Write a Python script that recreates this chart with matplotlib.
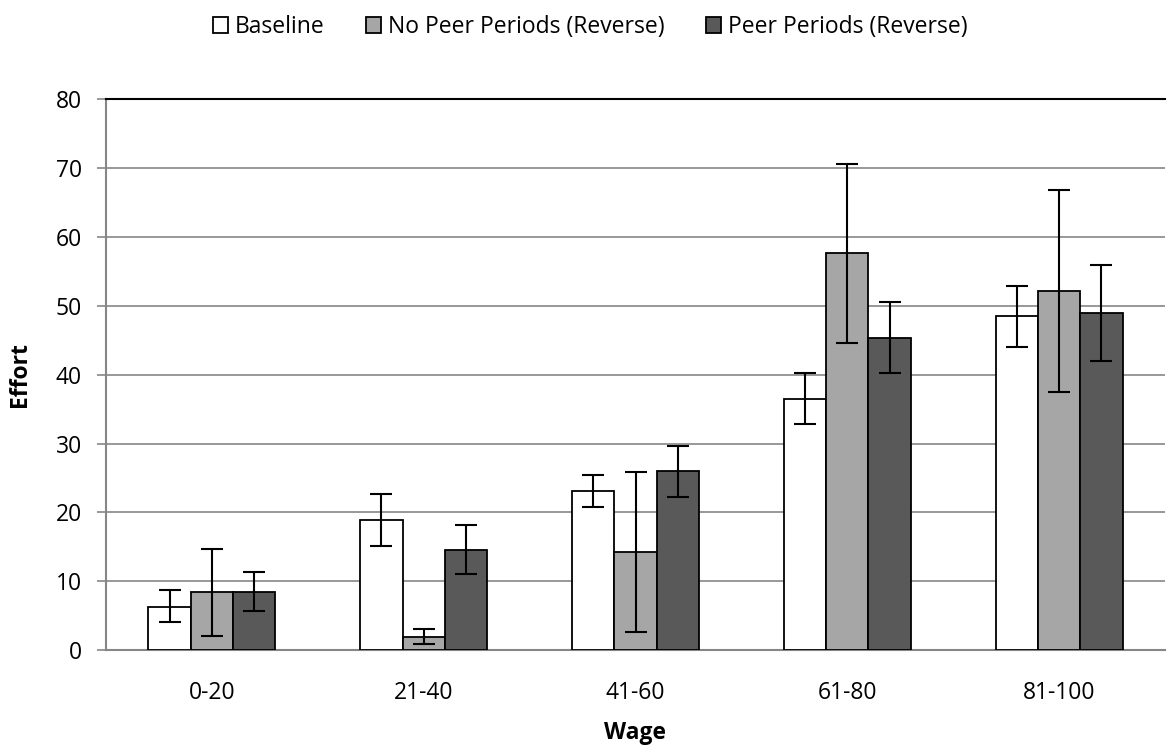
import numpy as np
import matplotlib.pyplot as plt

plt.rcParams['font.family'] = ['Open Sans', 'DejaVu Sans']

wages = ['0-20', '21-40', '41-60', '61-80', '81-100']
series = ['Baseline', 'No Peer Periods (Reverse)', 'Peer Periods (Reverse)']
colors = ['white', '#a6a6a6', '#595959']

baseline = [6.3, 18.9, 23.1, 36.5, 48.5]
baseline_lo = [4.0, 15.1, 20.8, 32.9, 44.0]
baseline_hi = [8.7, 22.7, 25.4, 40.2, 52.9]

no_peer = [8.4, 1.9, 14.2, 57.7, 52.2]
no_peer_lo = [2.1, 0.9, 2.6, 44.6, 37.5]
no_peer_hi = [14.7, 3.1, 25.8, 70.6, 66.8]

peer = [8.5, 14.6, 26.0, 45.4, 49.0]
peer_lo = [5.7, 11.1, 22.2, 40.2, 42.0]
peer_hi = [11.4, 18.1, 29.7, 50.5, 56.0]

values = [baseline, no_peer, peer]
lows = [baseline_lo, no_peer_lo, peer_lo]
highs = [baseline_hi, no_peer_hi, peer_hi]

fs = 16.5

fig = plt.figure(figsize=(11.69, 7.54), dpi=100)
ax = fig.add_axes([106 / 1169, 1 - 650 / 754, (1165 - 106) / 1169, (650 - 99.5) / 754])

x = np.arange(len(wages))
w = 0.2
for i, name in enumerate(series):
    v = np.array(values[i])
    err = [v - np.array(lows[i]), np.array(highs[i]) - v]
    ax.bar(x + (i - 1) * w, v, w, color=colors[i], edgecolor='black',
           linewidth=1.3, label=name, zorder=3)
    ax.errorbar(x + (i - 1) * w, v, yerr=err, fmt='none', ecolor='black',
                elinewidth=1.5, capsize=8, capthick=1.5, zorder=4)

ax.set_ylim(0, 80)
ax.set_xlim(-0.5, len(wages) - 0.5)
ax.set_yticks(range(0, 81, 10))
ax.set_xticks(x)
ax.set_xticklabels(wages)
ax.yaxis.grid(True, color='#868686', linewidth=1.2, zorder=0)
ax.set_axisbelow(True)

for s in ['left', 'bottom']:
    ax.spines[s].set_color('#868686')
    ax.spines[s].set_linewidth(1.5)
ax.spines['right'].set_visible(False)
ax.spines['top'].set_color('black')
ax.spines['top'].set_linewidth(1.5)

ax.tick_params(axis='y', length=6.5, width=1.2, color='#868686', labelsize=fs, pad=11)
ax.tick_params(axis='x', length=0, labelsize=fs, pad=22)

ax.set_ylabel('Effort', fontsize=fs, fontweight='bold', va='center')
ax.yaxis.set_label_coords(-0.081, 0.5)
ax.set_xlabel('Wage', fontsize=fs, fontweight='bold', va='center')
ax.xaxis.set_label_coords(0.5, -0.151)

fig.legend(loc='center', bbox_to_anchor=(0.505, 1 - 27 / 754), ncol=3,
           frameon=False, fontsize=fs, handlelength=0.65, handleheight=0.65,
           columnspacing=1.8, handletextpad=0.3)

fig.savefig('out.png', dpi=100)
